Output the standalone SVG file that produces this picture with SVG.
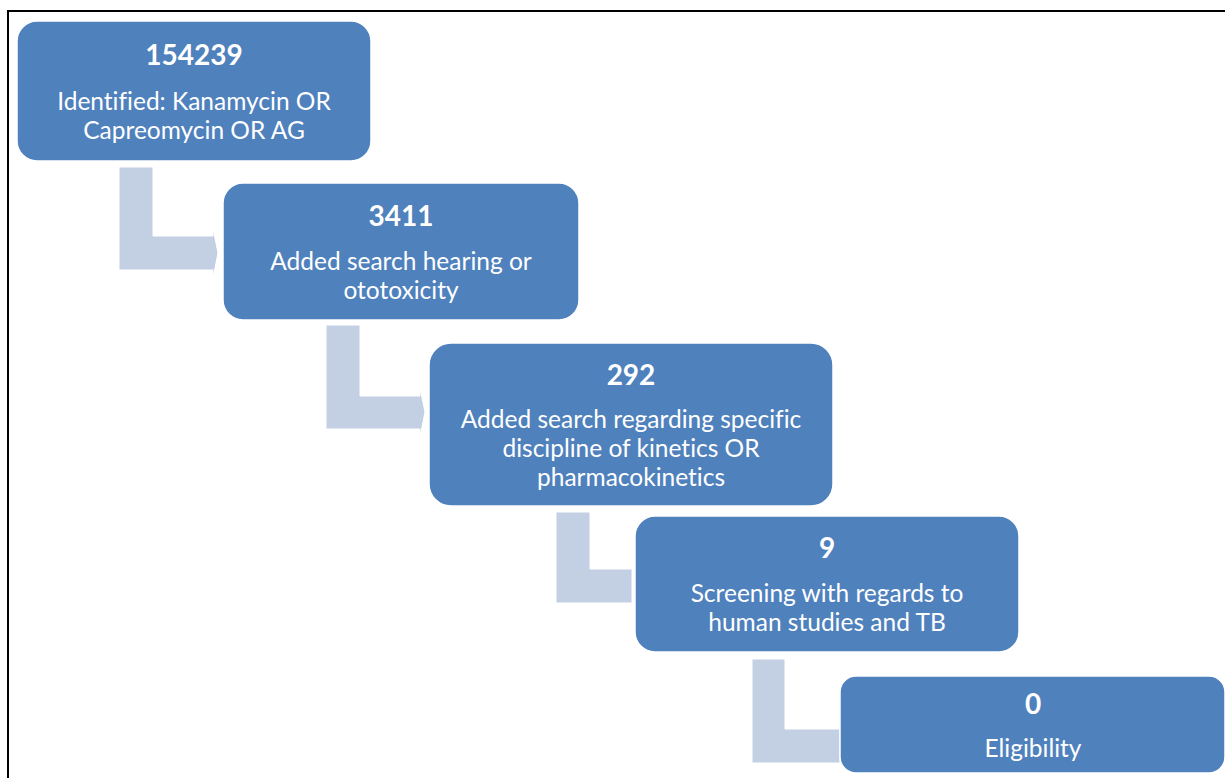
<svg xmlns="http://www.w3.org/2000/svg" width="1225" height="778" viewBox="0 0 1225 778">
<style>
.box{fill:#4F81BD;stroke:#ffffff;stroke-width:1.5}
.arr{fill:#C3CFE2;stroke:#ffffff;stroke-width:1}
.num{font-family:Lato,"Open Sans",sans-serif;font-weight:bold;font-size:28px;fill:#ffffff;text-anchor:middle}
.lbl{font-family:Lato,"Open Sans",sans-serif;font-size:24.5px;fill:#ffffff;text-anchor:middle;font-variant-ligatures:none}
</style>
<rect x="0" y="0" width="1225" height="778" fill="#ffffff"/>
<path d="M8 778 V11 H1225" fill="none" stroke="#000000" stroke-width="2"/>
<g id="connectors">
<path class="arr" d="M119 167 H153 V236 H213 V228 L218 253 L213 278 V270 H119 Z"/>
<path class="arr" d="M326 325 H360 V396 H420 V388 L425 412 L420 437 V429 H326 Z"/>
<path class="arr" d="M556 512 H590 V569 H632 V603 H556 Z"/>
<path class="arr" d="M752 659 H785 V729 H840 V763 H752 Z"/>
</g>
<g id="node1">
<rect class="box" x="17" y="21" width="354" height="140" rx="20"/>
<text class="num" x="194" y="65">154239</text>
<text class="lbl" x="194" y="110">Identified: Kanamycin OR</text>
<text class="lbl" x="194" y="139">Capreomycin OR AG</text>
</g>
<g id="node2">
<rect class="box" x="223" y="183" width="356" height="137" rx="20"/>
<text class="num" x="401" y="226">3411</text>
<text class="lbl" x="401" y="270">Added search hearing or</text>
<text class="lbl" x="401" y="299">ototoxicity</text>
</g>
<g id="node3">
<rect class="box" x="429" y="343" width="404" height="163" rx="22"/>
<text class="num" x="631" y="385">292</text>
<text class="lbl" x="631" y="428">Added search regarding specific</text>
<text class="lbl" x="631" y="457">discipline of kinetics OR</text>
<text class="lbl" x="631" y="486">pharmacokinetics</text>
</g>
<g id="node4">
<rect class="box" x="635" y="516" width="384" height="136" rx="20"/>
<text class="num" x="827" y="558">9</text>
<text class="lbl" x="827" y="602">Screening with regards to</text>
<text class="lbl" x="827" y="631">human studies and TB</text>
</g>
<g id="node5">
<rect class="box" x="840" y="676" width="385" height="97" rx="16"/>
<text class="num" x="1033" y="714">0</text>
<text class="lbl" x="1033" y="757">Eligibility</text>
</g>
</svg>
